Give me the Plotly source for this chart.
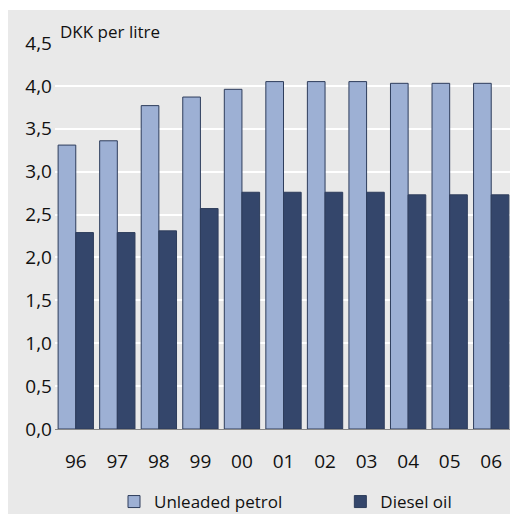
import plotly.graph_objects as go

years = ["96", "97", "98", "99", "00", "01", "02", "03", "04", "05", "06"]
unleaded_petrol = [3.31, 3.36, 3.77, 3.87, 3.96, 4.05, 4.05, 4.05, 4.03, 4.03, 4.03]
diesel_oil = [2.29, 2.29, 2.31, 2.57, 2.76, 2.76, 2.76, 2.76, 2.73, 2.73, 2.73]
y_ticks = [0, 0.5, 1.0, 1.5, 2.0, 2.5, 3.0, 3.5, 4.0, 4.5]
series_names = ["Unleaded petrol", "Diesel oil"]

# page is offset by the default 8px body margin
W, H = 510, 506
L, R, T, B = 47, 6, 35, 85
pw, ph = W - L - R, H - T - B

def px(x):
    return (x - L) / pw

def py(y):
    return (H - B - y) / ph

NBSP = "\u00a0"

fig = go.Figure()
fig.add_trace(go.Bar(x=years, y=unleaded_petrol, name=series_names[0] + NBSP * 12,
                     marker=dict(color="#9db0d4", line=dict(color="#2e3d5c", width=1))))
fig.add_trace(go.Bar(x=years, y=diesel_oil, name=series_names[1],
                     marker=dict(color="#34466b", line=dict(color="#2e3d5c", width=1))))

fig.add_shape(type="rect", xref="paper", yref="paper", layer="below",
              x0=px(-5), x1=px(W + 5), y0=py(H + 5), y1=py(2),
              fillcolor="#e9e9e9", line=dict(width=0))

fig.add_annotation(text="DKK per litre", xref="paper", yref="paper",
                   x=px(50), y=py(24), xanchor="left", yanchor="middle",
                   showarrow=False, font=dict(size=17, color="#111111"))

fig.update_layout(
    width=W, height=H,
    margin=dict(l=L, r=R, t=T, b=B),
    paper_bgcolor="white",
    plot_bgcolor="#dcdcdc",
    separators=", ",
    barmode="group",
    bargap=0.15,
    bargroupgap=0,
    font=dict(family="Open Sans, sans-serif", color="#111111"),
    showlegend=True,
    legend=dict(orientation="h", x=px(106), xanchor="left",
                yref="container", y=(H - 494) / H, yanchor="middle",
                font=dict(size=17), bgcolor="rgba(0,0,0,0)", itemwidth=30,
                traceorder="normal"),
    yaxis=dict(range=[0, 4.5], tickvals=y_ticks, tickformat=".1f",
               showgrid=True, gridcolor="white", gridwidth=2,
               zeroline=False, showline=False, ticks="",
               tickfont=dict(size=19), ticklabelstandoff=2),
    xaxis=dict(showgrid=False, showline=True, linecolor="#888888", linewidth=1,
               ticks="", tickfont=dict(size=19), ticklabelstandoff=15),
)

fig.write_html("out.html")
